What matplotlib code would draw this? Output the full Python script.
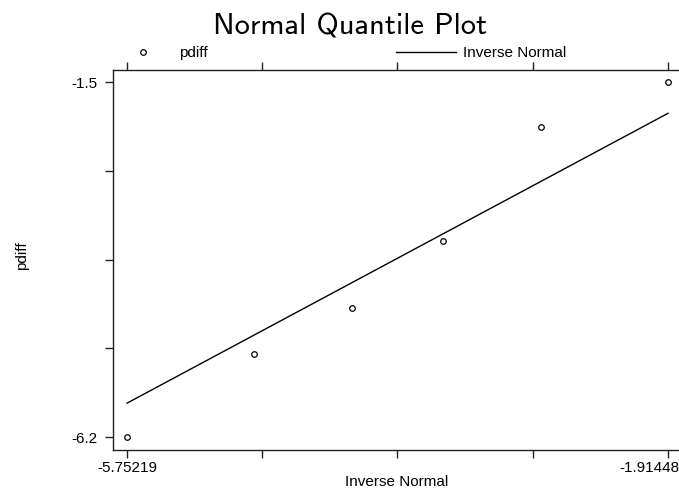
import matplotlib
matplotlib.use("Agg")
import matplotlib.pyplot as plt
from matplotlib.transforms import ScaledTranslation

# ---- data ----
inv_normal = [-5.75219, -4.8505, -4.1569, -3.5098, -2.8162, -1.91448]
pdiff = [-6.2, -5.10, -4.49, -3.61, -2.10, -1.5]
x_ticks = [-5.75219, -4.79277, -3.83334, -2.87391, -1.91448]
x_tick_labels = ["-5.75219", "", "", "", "-1.91448"]
y_ticks = [-6.2, -5.025, -3.85, -2.675, -1.5]
y_tick_labels = ["-6.2", "", "", "", "-1.5"]

W, H = 679, 494
plt.rcParams['font.family'] = ['Liberation Sans', 'DejaVu Sans']
plt.rcParams['font.size'] = 11

fig = plt.figure(figsize=(W / 100, H / 100), dpi=100)
ax = fig.add_axes([113 / W, 1 - 450 / H, 569 / W, 380 / H])

xpp = (x_ticks[-1] - x_ticks[0]) / 541.0
ypp = (y_ticks[-1] - y_ticks[0]) / 355.0
ax.set_xlim(x_ticks[0] - 14 * xpp, x_ticks[-1] + 14 * xpp)
ax.set_ylim(y_ticks[0] - 13 * ypp, y_ticks[-1] + 12 * ypp)

# fitted line (Inverse Normal vs itself)
line, = ax.plot([inv_normal[0], inv_normal[-1]], [inv_normal[0], inv_normal[-1]],
                color='black', lw=1.0, label='Inverse Normal')
pts, = ax.plot(inv_normal, pdiff, linestyle='none', marker='o', markersize=4,
               markerfacecolor='white', markeredgecolor='black', markeredgewidth=0.9,
               label='pdiff')

for s in ['left', 'bottom', 'top']:
    ax.spines[s].set_color('#222222')
    ax.spines[s].set_linewidth(1.0)
ax.spines['right'].set_visible(False)

ax.set_xticks(x_ticks)
ax.set_xticklabels(x_tick_labels)
ax.set_yticks(y_ticks)
ax.set_yticklabels(y_tick_labels)
ax.tick_params(axis='x', which='both', direction='out', length=6, width=1.0,
               color='#222222', top=True, labeltop=False, pad=2, labelsize=11)
ax.tick_params(axis='y', direction='out', length=6, width=1.0, color='#222222',
               pad=5, labelsize=11)

# shift the last x tick label so it stays inside the image
lbl = ax.get_xticklabels()[-1]
lbl.set_horizontalalignment('right')
lbl.set_transform(lbl.get_transform() + ScaledTranslation(12 / 100, 0, fig.dpi_scale_trans))

# title
fig.text(350 / W, 1 - 35 / H, "Normal Quantile Plot", family='cmss10', fontsize=22,
         ha='center', va='baseline')

# axis labels
fig.text(396.5 / W, 1 - 482 / H, "Inverse Normal", ha='center', va='center', fontsize=11)
fig.text(22 / W, 1 - 256 / H, "pdiff", ha='center', va='center', rotation=90, fontsize=11)

# legend
fig.legend(handles=[pts, line], labels=['pdiff', 'Inverse Normal'], ncol=2,
           frameon=False, loc='center left', bbox_to_anchor=(113 / W, 1 - 53 / H),
           borderpad=0, borderaxespad=0, handlelength=3.9, handletextpad=0.45,
           columnspacing=12.3, fontsize=11)

fig.savefig("out.png", dpi=100)
